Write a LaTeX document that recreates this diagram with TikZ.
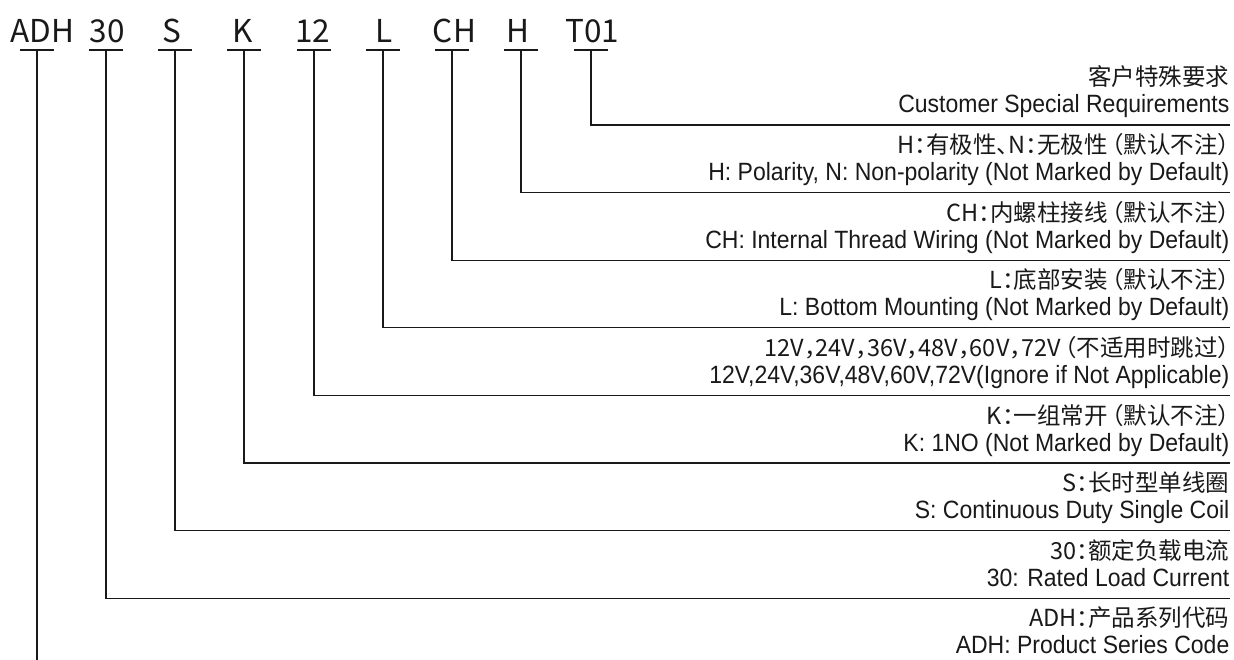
\documentclass[tikz,border=0pt]{standalone}
\usepackage{fontspec}
\setmainfont[FakeStretch=0.92]{Liberation Sans}
\newfontfamily\cjk{Noto Sans CJK SC}
\newfontfamily\cjkh[RawFeature=+halt]{Noto Sans CJK SC}
\newcommand{\zhlp}{\kern4pt （}
\begin{document}
\begin{tikzpicture}[x=1pt,y=-1pt,
  line width=1.3pt, color=black!90,
  code/.style={font=\cjk\fontsize{31.5}{31.5}\selectfont, anchor=base, inner sep=0},
  desczh/.style={font=\cjkh\fontsize{23.5}{23.5}\selectfont, anchor=base east, inner sep=0},
  descen/.style={font=\fontsize{25}{25}\selectfont, anchor=base east, inner sep=0}]
\useasboundingbox (0,0) rectangle (1234,660);
% codes and tick bars
\foreach \i/\cx/\vx/\lab in {1/42.5/37/ADH, 2/107/106/30, 3/171.5/175/S, 4/242.5/244/K, 5/312.5/314/12, 6/384/383/L, 7/454.5/452/CH, 8/517.5/521/H, 9/592.5/591/T01} {
  \node[code] (c\i) at (\cx,43) {\lab};
  \coordinate (t\i) at (\vx,50);
  \draw ([xshift=-17pt]t\i) -- ([xshift=17pt]t\i);
}
% line end coordinates
\coordinate (e9) at (1230,125);
\coordinate (e8) at (1230,192.6);
\coordinate (e7) at (1230,260.2);
\coordinate (e6) at (1230,327.8);
\coordinate (e5) at (1230,395.4);
\coordinate (e4) at (1230,463);
\coordinate (e3) at (1230,530.6);
\coordinate (e2) at (1230,598.2);
\coordinate (e1) at (37,660);
\foreach \i in {2,...,9} { \draw (t\i) |- (e\i); }
\draw (t1) -- (e1);
% descriptions
\node[desczh] (z9) at (1230,86) {客户特殊要求};
\node[descen] (n9) at (1230,113) {Customer Special Requirements};
\node[desczh] (z8) at (1230,153.6) {H：有极性、N：无极性\zhlp 默认不注）};
\node[descen] (n8) at (1230,180.6) {H: Polarity, N: Non-polarity (Not Marked by Default)};
\node[desczh] (z7) at (1230,221.2) {CH：内螺柱接线\zhlp 默认不注）};
\node[descen] (n7) at (1230,248.2) {CH: Internal Thread Wiring (Not Marked by Default)};
\node[desczh] (z6) at (1230,288.8) {L：底部安装\zhlp 默认不注）};
\node[descen] (n6) at (1230,315.8) {L: Bottom Mounting (Not Marked by Default)};
\node[desczh] (z5) at (1230,356.4) {12V，24V，36V，48V，60V，72V\zhlp 不适用时跳过）};
\node[descen] (n5) at (1230,383.4) {12V,24V,36V,48V,60V,72V(Ignore if Not Applicable)};
\node[desczh] (z4) at (1230,424) {K：一组常开\zhlp 默认不注）};
\node[descen] (n4) at (1230,451) {K: 1NO (Not Marked by Default)};
\node[desczh] (z3) at (1230,491.6) {S：长时型单线圈};
\node[descen] (n3) at (1230,518.6) {S: Continuous Duty Single Coil};
\node[desczh] (z2) at (1230,559.2) {30：额定负载电流};
\node[descen] (n2) at (1230,586.2) {30: Rated Load Current};
\node[desczh] (z1) at (1230,626.8) {ADH：产品系列代码};
\node[descen] (n1) at (1230,653.8) {ADH: Product Series Code};
\end{tikzpicture}
\end{document}
